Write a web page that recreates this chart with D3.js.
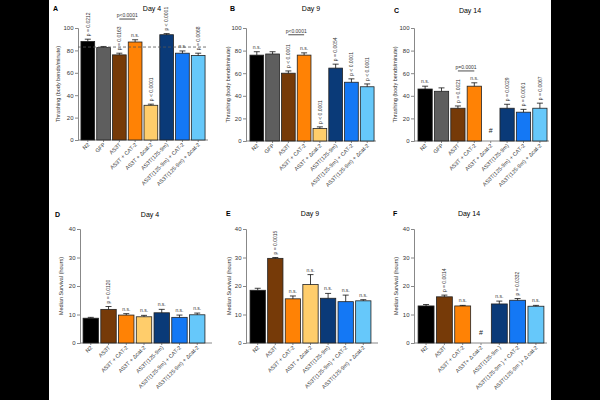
<!DOCTYPE html>
<html>
<head>
<meta charset="utf-8">
<script src="https://cdn.jsdelivr.net/npm/d3@7"></script>
<style>
  body { margin: 0; background: #000; }
  text { font-family: "Liberation Sans", Arial, sans-serif; }
</style>
</head>
<body>
<div id="container"></div>
<script>
// ---- data ----
let groups8 = ["N2", "GFP", "AS3T", "AS3T + CAT-2", "AS3T + \u0394cat-2", "AS3T(125-9m)", "AS3T(125-9m) + CAT-2", "AS3T(125-9m) + \u0394cat-2"];
let groups7 = ["N2", "AS3T", "AS3T + CAT-2", "AS3T + \u0394cat-2", "AS3T(125-9m)", "AS3T(125-9m) + CAT-2", "AS3T(125-9m) + \u0394cat-2"];
let groupsF = ["N2", "AS3T", "AS3T + CAT-2", "AS3T+ \u0394 cat-2", "AS3T(125-9m )", "AS3T(125-9m ) + CAT-2", "AS3T(125-9m )+ \u0394 cat-2"];

let colors8 = ["#000000", "#5e5e5e", "#763a08", "#ff8205", "#ffcd6b", "#0a3a78", "#1478f5", "#66c8fa"];
let colors7 = ["#000000", "#763a08", "#ff8205", "#ffcd6b", "#0a3a78", "#1478f5", "#66c8fa"];

// thrashing (body bends/minute)
let thrashDay4 = [88, 82.5, 76, 87.5, 31, 94, 77.5, 75.5];
let thrashDay4Err = [2, 1, 1.5, 2, 1, 1, 2, 2];
let thrashDay4Stats = ["p = 0.0212", "", "p = 0.0163", "n.s.", "p < 0.0001", "p < 0.0001", "n.s.", "p = 0.0068"];

let thrashDay9 = [76, 77, 60, 76, 11, 64.5, 52, 48];
let thrashDay9Err = [3, 2, 2, 2, 1.5, 3.5, 3, 2.5];
let thrashDay9Stats = ["n.s.", "", "p < 0.0001", "n.s.", "p < 0.0001", "p = 0.0054", "p < 0.0001", "p < 0.0001"];

let thrashDay14 = [46, 44, 29, 48.5, null, 29, 25.5, 29];
let thrashDay14Err = [2.5, 3, 2, 3, 0, 3.5, 2.5, 4.5];
let thrashDay14Stats = ["n.s.", "", "p = 0.0021", "n.s.", "", "p = 0.0029", "p = 0.0001", "p = 0.0067"];

// median survival (hours)
let survDay4 = [8.7, 11.8, 9.8, 9.2, 10.6, 9, 9.9];
let survDay4Err = [0.3, 1, 0.5, 0.5, 1.2, 0.8, 0.6];
let survDay4Stats = ["", "p = 0.0120", "n.s.", "n.s.", "n.s.", "n.s.", "n.s."];

let survDay9 = [18.5, 29.7, 15.5, 20.5, 15.7, 14.5, 14.8];
let survDay9Err = [0.7, 0.3, 1, 3.5, 1.7, 2.3, 0.4];
let survDay9Stats = ["", "p = 0.0015", "n.s.", "n.s.", "n.s.", "n.s.", "n.s."];

let survDay14 = [13, 16.2, 13, null, 13.7, 15, 12.9];
let survDay14Err = [0.5, 0.6, 0.2, 0, 1, 0.6, 0.3];
let survDay14Stats = ["", "p = 0.0014", "n.s.", "", "n.s.", "p = 0.0332", "n.s."];

let thrashTicks = [0, 20, 40, 60, 80, 100];
let survTicks = [0, 10, 20, 30, 40];

// ---- drawing ----
let w = 600;
let h = 400;
let viz = d3.select("#container")
  .append("svg")
    .attr("width", w)
    .attr("height", h)
;
viz.append("rect").attr("x", 49).attr("y", 0).attr("width", 502).attr("height", h).attr("fill", "white");

function drawPanel(p){
  let g = viz.append("g");
  let yScale = d3.scaleLinear().domain([0, p.yMax]).range([p.y0, p.y1]);
  let xScale = d3.scaleBand().domain(p.groups).range([p.bx0, p.bx1]).paddingInner(0.13).paddingOuter(0.06);

  let yAxis = d3.axisLeft(yScale).tickValues(p.ticks).tickSize(3).tickPadding(1.5);
  let yAxisGroup = g.append("g")
      .attr("transform", "translate(" + p.ax + ",0)")
      .call(yAxis);
  yAxisGroup.selectAll("text").attr("font-size", 6).attr("fill", "#333");

  let xAxis = d3.axisBottom(xScale).tickSize(2).tickFormat("");
  let xAxisGroup = g.append("g")
      .attr("transform", "translate(0," + p.y0 + ")")
      .call(xAxis);
  xAxisGroup.select(".domain").remove();
  g.append("line")
    .attr("x1", p.ax).attr("x2", p.axEnd)
    .attr("y1", p.y0).attr("y2", p.y0)
    .attr("stroke", "#888").attr("stroke-width", 1);
  g.selectAll(".domain, .tick line").attr("stroke", "#888");

  // rotated group names
  g.selectAll(".xlab").data(p.groups).enter().append("text")
    .attr("class", "xlab")
    .attr("transform", function(d){
      return "translate(" + (xScale(d) + xScale.bandwidth()/2 + 2) + "," + (p.y0 + 5) + ") rotate(-45)";
    })
    .attr("text-anchor", "end")
    .attr("font-size", 5.5)
    .attr("fill", "#333")
    .text(function(d){ return d; });

  let rows = p.groups.map(function(d, i){
    return { name: d, value: p.values[i], err: p.errs[i], stat: p.stats[i], color: p.colors[i] };
  });
  let present = rows.filter(function(d){ return d.value != null; });

  // bars
  g.selectAll(".bar").data(present).enter().append("rect")
    .attr("x", function(d){ return xScale(d.name); })
    .attr("y", function(d){ return yScale(d.value); })
    .attr("width", xScale.bandwidth())
    .attr("height", function(d){ return p.y0 - yScale(d.value); })
    .attr("fill", function(d){ return d.color; })
    .attr("stroke", "#222")
    .attr("stroke-width", 0.8);

  // error bars (upper only)
  present.forEach(function(d){
    let cx = xScale(d.name) + xScale.bandwidth()/2;
    let yt = yScale(d.value + d.err);
    g.append("line").attr("x1", cx).attr("x2", cx)
      .attr("y1", yScale(d.value)).attr("y2", yt)
      .attr("stroke", "#111").attr("stroke-width", 0.8);
    g.append("line").attr("x1", cx - 3).attr("x2", cx + 3)
      .attr("y1", yt).attr("y2", yt)
      .attr("stroke", "#111").attr("stroke-width", 0.8);
  });

  // stats
  present.forEach(function(d){
    if (!d.stat) return;
    let cx = xScale(d.name) + xScale.bandwidth()/2;
    let yt = yScale(d.value + d.err);
    if (d.stat == "n.s.") {
      g.append("text").attr("x", cx).attr("y", yt - 3)
        .attr("text-anchor", "middle").attr("font-size", 5).attr("fill", "#333")
        .text(d.stat);
    } else {
      g.append("text")
        .attr("transform", "translate(" + (cx + 1.8) + "," + (yt - 3) + ") rotate(-90)")
        .attr("font-size", 5).attr("fill", "#333")
        .text(d.stat);
    }
  });

  // missing bars
  rows.filter(function(d){ return d.value == null; }).forEach(function(d){
    g.append("text")
      .attr("x", xScale(d.name) + xScale.bandwidth()/2)
      .attr("y", p.y0 - 8)
      .attr("text-anchor", "middle").attr("font-size", 7).attr("fill", "#222")
      .text("#");
  });

  // comparison bracket
  if (p.bracket) {
    let xa = xScale(p.groups[p.bracket.from]) + xScale.bandwidth()/2;
    let xb = xScale(p.groups[p.bracket.to]) + xScale.bandwidth()/2;
    let yb = yScale(p.bracket.level);
    g.append("line").attr("x1", xa).attr("x2", xb).attr("y1", yb).attr("y2", yb)
      .attr("stroke", "#222").attr("stroke-width", 0.8);
    g.append("text").attr("x", (xa + xb)/2).attr("y", yb - 2)
      .attr("text-anchor", "middle").attr("font-size", 5).attr("fill", "#333")
      .text(p.bracket.text);
  }

  // dashed reference line
  if (p.refLine != null) {
    g.append("line")
      .attr("x1", p.ax).attr("x2", p.axEnd)
      .attr("y1", yScale(p.refLine)).attr("y2", yScale(p.refLine))
      .attr("stroke", "#555").attr("stroke-width", 0.8)
      .attr("stroke-dasharray", "3,2");
  }

  // panel letter, title, y label
  g.append("text").attr("x", p.letterX).attr("y", p.titleY)
    .attr("font-size", 7).attr("font-weight", "bold").text(p.letter);
  g.append("text").attr("x", p.titleX).attr("y", p.titleY)
    .attr("text-anchor", "middle").attr("font-size", 7).text(p.title);
  g.append("text")
    .attr("transform", "translate(" + p.labelX + "," + ((p.y0 + p.y1)/2) + ") rotate(-90)")
    .attr("text-anchor", "middle").attr("font-size", 5.5).attr("fill", "#333")
    .text(p.yLabel);
}

let thrashLabel = "Thrashing (body bends/minute)";
let survLabel = "Median Survival (hours)";

drawPanel({ letter: "A", title: "Day 4", groups: groups8, colors: colors8,
  values: thrashDay4, errs: thrashDay4Err, stats: thrashDay4Stats,
  yMax: 100, ticks: thrashTicks, yLabel: thrashLabel,
  ax: 78, axEnd: 208, bx0: 80, bx1: 206, y0: 140, y1: 28,
  letterX: 53, titleX: 152, titleY: 11, labelX: 60,
  bracket: { from: 2, to: 3, level: 108, text: "p<0.0001" }, refLine: 83 });

drawPanel({ letter: "B", title: "Day 9", groups: groups8, colors: colors8,
  values: thrashDay9, errs: thrashDay9Err, stats: thrashDay9Stats,
  yMax: 100, ticks: thrashTicks, yLabel: thrashLabel,
  ax: 246, axEnd: 376, bx0: 249, bx1: 375, y0: 141, y1: 28,
  letterX: 230, titleX: 311, titleY: 11, labelX: 230,
  bracket: { from: 2, to: 3, level: 94, text: "p<0.0001" }, refLine: null });

drawPanel({ letter: "C", title: "Day 14", groups: groups8, colors: colors8,
  values: thrashDay14, errs: thrashDay14Err, stats: thrashDay14Stats,
  yMax: 100, ticks: thrashTicks, yLabel: thrashLabel,
  ax: 414, axEnd: 549, bx0: 417, bx1: 548, y0: 141, y1: 28,
  letterX: 394, titleX: 470, titleY: 13, labelX: 397,
  bracket: { from: 2, to: 3, level: 62, text: "p=0.0001" }, refLine: null });

drawPanel({ letter: "D", title: "Day 4", groups: groups7, colors: colors7,
  values: survDay4, errs: survDay4Err, stats: survDay4Stats,
  yMax: 40, ticks: survTicks, yLabel: survLabel,
  ax: 80, axEnd: 212, bx0: 82, bx1: 206, y0: 343, y1: 229,
  letterX: 55, titleX: 150, titleY: 217, labelX: 63,
  bracket: null, refLine: null });

drawPanel({ letter: "E", title: "Day 9", groups: groups7, colors: colors7,
  values: survDay9, errs: survDay9Err, stats: survDay9Stats,
  yMax: 40, ticks: survTicks, yLabel: survLabel,
  ax: 246, axEnd: 378, bx0: 249, bx1: 372, y0: 343, y1: 229,
  letterX: 226, titleX: 310, titleY: 216, labelX: 231,
  bracket: null, refLine: null });

drawPanel({ letter: "F", title: "Day 14", groups: groupsF, colors: colors7,
  values: survDay14, errs: survDay14Err, stats: survDay14Stats,
  yMax: 40, ticks: survTicks, yLabel: survLabel,
  ax: 414, axEnd: 547, bx0: 417, bx1: 545, y0: 343, y1: 229,
  letterX: 393, titleX: 469, titleY: 216, labelX: 398,
  bracket: null, refLine: null });
</script>
</body>
</html>
